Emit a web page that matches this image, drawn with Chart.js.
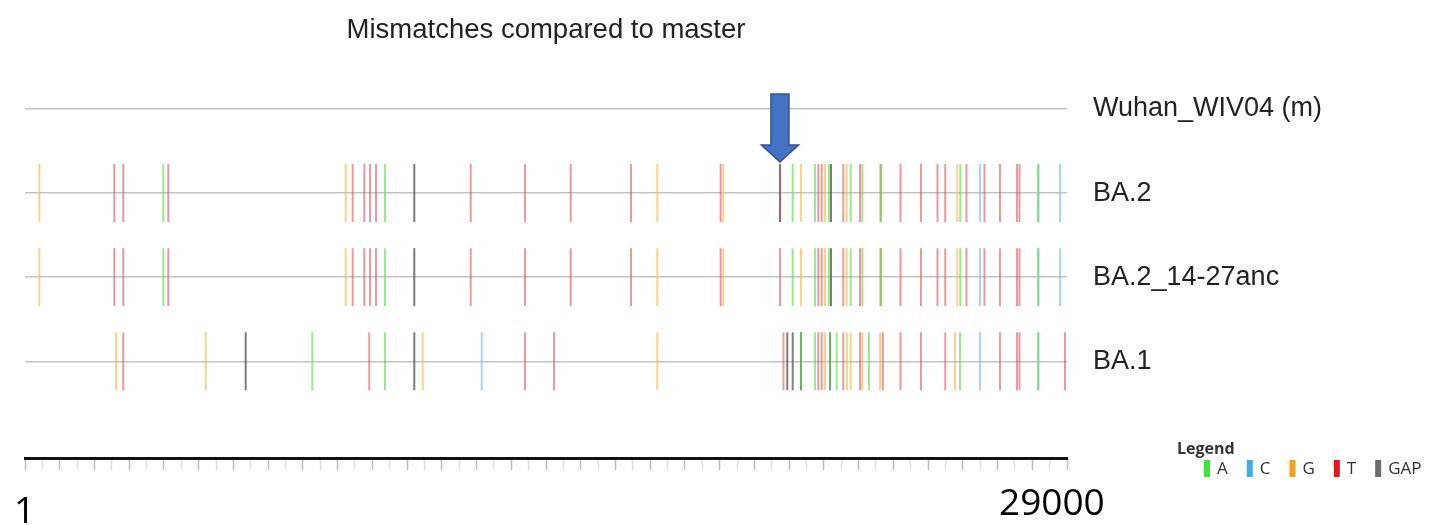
<!DOCTYPE html>
<html>
<head>
<meta charset="utf-8">
<script src="https://cdn.jsdelivr.net/npm/chart.js@4/dist/chart.umd.min.js"></script>
<style>
  html, body { margin: 0; padding: 0; background: #fff; }
  #wrap { width: 1447px; height: 525px; position: relative; }
</style>
</head>
<body>
<div id="wrap"><canvas id="mismatchChart"></canvas></div>
<script>
/* =========================
   DATA
========================= */

const rowNames = ["Wuhan_WIV04 (m)", "BA.2", "BA.2_14-27anc", "BA.1"];
const rowValues = [3, 2, 1, 0];

const bases = ["A", "C", "G", "T", "GAP"];
const markColors = [
    "rgba(90, 220, 70, 0.6)",
    "rgba(120, 190, 235, 0.65)",
    "rgba(248, 180, 60, 0.6)",
    "rgba(215, 70, 80, 0.55)",
    "rgba(80, 80, 80, 0.75)"
];
const legendColors = ["#3de639", "#41aae8", "#f7a21b", "#e5171f", "#6b6b6b"];

// mismatch positions (nt) and base per row, master row has none
const ba2Pos = [412, 2571, 2830, 3982, 4126, 9233, 9434, 9768, 9933, 10105, 10364, 11208,
    12832, 14395, 15711, 17447, 18204, 20029, 20104, 21736, 21736, 22102, 22341, 22744,
    22839, 22937, 23032, 23147, 23205, 23559, 23657, 23772, 24040, 24106, 24630, 24650,
    25206, 25796, 26271, 26495, 26841, 26927, 27106, 27494, 27624, 28070, 28560, 28632,
    29173, 29173, 29798];
const ba2Base = ["G", "T", "T", "A", "T", "G", "T", "T", "T", "T", "A", "GAP",
    "T", "T", "T", "T", "G", "T", "G", "T", "GAP", "A", "G", "A",
    "T", "T", "G", "A", "GAP", "T", "G", "A", "T", "A", "T", "A",
    "T", "T", "T", "T", "G", "A", "T", "C", "T", "T", "T", "T",
    "A", "C", "C"];

const ancPos = [412, 2571, 2830, 3982, 4126, 9233, 9434, 9768, 9933, 10105, 10364, 11208,
    12832, 14395, 15711, 17447, 18204, 20029, 20104, 21736, 22102, 22341, 22744,
    22839, 22937, 23032, 23147, 23205, 23559, 23657, 23772, 24040, 24106, 24630, 24650,
    25206, 25796, 26271, 26495, 26841, 26927, 27106, 27494, 27624, 28070, 28560, 28632,
    29173, 29173, 29798];
const ancBase = ["G", "T", "T", "A", "T", "G", "T", "T", "T", "T", "A", "GAP",
    "T", "T", "T", "T", "G", "T", "G", "T", "A", "G", "A",
    "T", "T", "G", "A", "GAP", "T", "G", "A", "T", "A", "T", "A",
    "T", "T", "T", "T", "G", "A", "T", "C", "T", "T", "T", "T",
    "A", "C", "C"];

const ba1Pos = [2620, 2830, 5202, 6354, 8271, 9912, 10364, 11208, 11450, 13149, 14395, 15230,
    18204, 21837, 21947, 22102, 22341, 22341, 22744, 22839, 22937, 23032, 23176, 23176,
    23369, 23559, 23665, 23772, 24040, 24106, 24300, 24620, 24700, 25206, 25796, 26495,
    26775, 26919, 27494, 28070, 28560, 28632, 29173, 29173, 29942];
const ba1Base = ["G", "T", "G", "GAP", "A", "T", "A", "GAP", "G", "C", "T", "T",
    "G", "T", "GAP", "GAP", "GAP", "A", "A", "T", "T", "G", "A", "GAP",
    "A", "T", "G", "G", "T", "G", "A", "G", "T", "T", "T", "T",
    "G", "A", "C", "T", "T", "T", "A", "C", "T"];

const arrowPos = 21736;           // mismatch pointed at on BA.2
const axisEndLabels = ["1", "29000"];
const genomeMin = 0;
const genomeMax = 30000;

/* =========================
   BUILD DATASETS
========================= */

const rowData = [
    { y: 2, pos: ba2Pos, base: ba2Base },
    { y: 1, pos: ancPos, base: ancBase },
    { y: 0, pos: ba1Pos, base: ba1Base }
];

const datasets = bases.map((b, i) => {
    let pts = [];
    rowData.forEach(r => {
        r.pos.forEach((p, k) => {
            if (r.base[k] === b) pts.push({ x: p, y: r.y });
        });
    });
    return {
        label: b,
        data: pts,
        pointStyle: "line",
        rotation: 90,
        pointRadius: 29,
        pointHoverRadius: 29,
        borderWidth: 2,
        borderColor: markColors[i],
        backgroundColor: markColors[i]
    };
});

/* =========================
   EXTRA DRAWING (arrow, end labels, legend)
========================= */

const overlayPlugin = {
    id: "overlay",
    afterDatasetsDraw(chart) {
        const ctx = chart.ctx;
        const xs = chart.scales.x;
        const ys = chart.scales.y;

        // blue arrow
        const cx = xs.getPixelForValue(arrowPos);
        const tip = ys.getPixelForValue(2) - 31;
        ctx.save();
        ctx.beginPath();
        ctx.moveTo(cx - 9, tip - 68);
        ctx.lineTo(cx + 9, tip - 68);
        ctx.lineTo(cx + 9, tip - 17);
        ctx.lineTo(cx + 18.5, tip - 17);
        ctx.lineTo(cx, tip);
        ctx.lineTo(cx - 18.5, tip - 17);
        ctx.lineTo(cx - 9, tip - 17);
        ctx.closePath();
        ctx.fillStyle = "#4472c4";
        ctx.fill();
        ctx.strokeStyle = "#2f528f";
        ctx.lineWidth = 1.5;
        ctx.stroke();

        // axis end labels
        ctx.fillStyle = "#000";
        ctx.font = "37px 'Open Sans', sans-serif";
        ctx.textBaseline = "alphabetic";
        ctx.textAlign = "left";
        ctx.fillText(axisEndLabels[0], xs.left - 11, 523);
        ctx.fillText(axisEndLabels[1], xs.right - 68, 515);

        // legend
        ctx.fillStyle = "#333";
        ctx.font = "bold 16px 'Open Sans', sans-serif";
        ctx.fillText("Legend", 1177, 454);
        ctx.font = "17px 'Open Sans', sans-serif";
        ctx.textBaseline = "middle";
        let lx = 1204;
        bases.forEach((b, i) => {
            ctx.fillStyle = legendColors[i];
            ctx.fillRect(lx, 460, 6, 17);
            ctx.fillStyle = "#333";
            ctx.fillText(b, lx + 13, 469);
            lx += 13 + ctx.measureText(b).width + 19;
        });
        ctx.restore();
    }
};

/* =========================
   CHART
========================= */

const ctx1 = document.getElementById("mismatchChart").getContext("2d");

new Chart(ctx1, {
    type: "scatter",
    data: { datasets: datasets },
    options: {
        responsive: true,
        maintainAspectRatio: false,
        animation: false,
        events: [],
        layout: {
            autoPadding: false,   // tall line markers would otherwise push the plot area in
            padding: { left: 25, right: 0, top: 0, bottom: 0 }
        },
        plugins: {
            legend: { display: false },
            tooltip: { enabled: false },
            title: {
                display: true,
                text: "Mismatches compared to master",
                fullSize: false,
                color: "#222",
                font: { family: "'Liberation Sans', Arial, sans-serif", size: 27.5, weight: "normal" },
                padding: { top: 14, bottom: 14 }
            }
        },
        scales: {
            x: {
                type: "linear",
                position: "bottom",
                min: genomeMin,
                max: genomeMax,
                afterFit: scale => { scale.height = 67; },
                ticks: { display: false, stepSize: 500, autoSkip: false },
                grid: {
                    drawOnChartArea: false,
                    drawTicks: true,
                    tickLength: 12,
                    tickWidth: 1.5,
                    tickColor: c => (c.tick && c.tick.value % 1000 === 0) ? "#bdbdbd" : "#e0e0e0"
                },
                border: { display: true, color: "#111", width: 3 }
            },
            y: {
                type: "linear",
                position: "right",
                min: -1.15,
                max: 3.57,
                afterFit: scale => { scale.width = 380; },
                afterBuildTicks: scale => {
                    scale.ticks = rowValues.map(v => ({ value: v }));
                },
                ticks: {
                    padding: 26,
                    color: "#222",
                    font: { family: "'Liberation Sans', Arial, sans-serif", size: 27 },
                    callback: value => rowNames[rowValues.indexOf(value)]
                },
                grid: { color: "#c4c4c4", lineWidth: 1.5, drawTicks: false },
                border: { display: false }
            }
        }
    },
    plugins: [overlayPlugin]
});
</script>
</body>
</html>
